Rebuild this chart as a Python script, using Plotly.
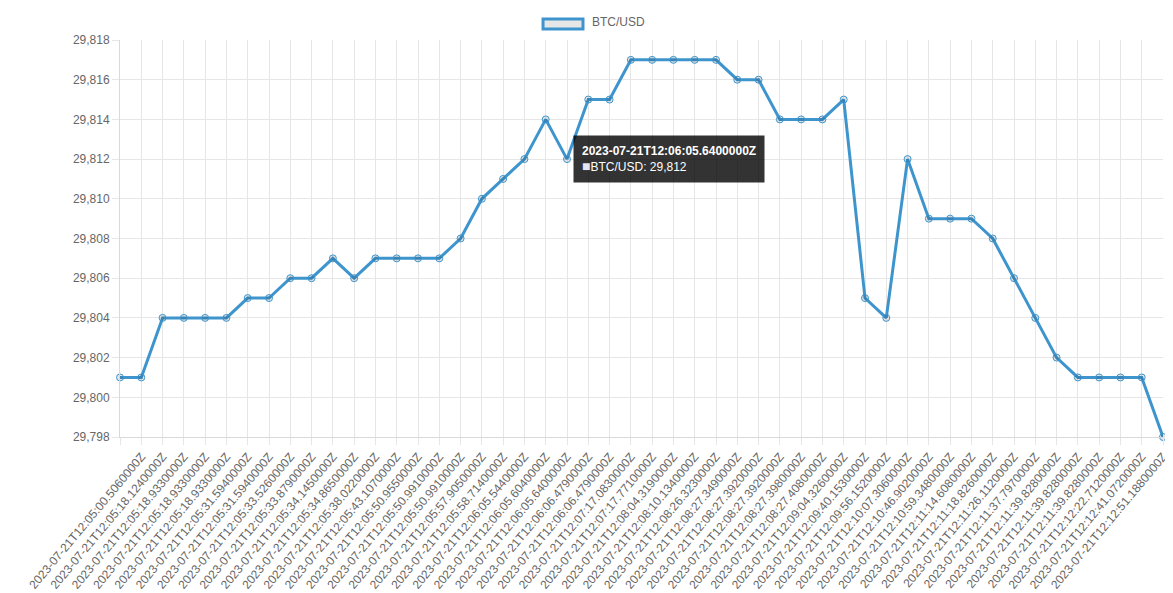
import plotly.graph_objects as go

labels = [
    "2023-07-21T12:05:00.5060000Z", "2023-07-21T12:05:00.5060000Z", "2023-07-21T12:05:18.1240000Z",
    "2023-07-21T12:05:18.9330000Z", "2023-07-21T12:05:18.9330000Z", "2023-07-21T12:05:18.9330000Z",
    "2023-07-21T12:05:31.5940000Z", "2023-07-21T12:05:31.5940000Z", "2023-07-21T12:05:33.5260000Z",
    "2023-07-21T12:05:33.8790000Z", "2023-07-21T12:05:34.1450000Z", "2023-07-21T12:05:34.8650000Z",
    "2023-07-21T12:05:38.0220000Z", "2023-07-21T12:05:43.1070000Z", "2023-07-21T12:05:50.9550000Z",
    "2023-07-21T12:05:50.9910000Z", "2023-07-21T12:05:50.9910000Z", "2023-07-21T12:05:57.9050000Z",
    "2023-07-21T12:05:58.7140000Z", "2023-07-21T12:06:05.5440000Z", "2023-07-21T12:06:05.6040000Z",
    "2023-07-21T12:06:05.6400000Z", "2023-07-21T12:06:06.4790000Z", "2023-07-21T12:06:06.4790000Z",
    "2023-07-21T12:07:17.0830000Z", "2023-07-21T12:07:17.7710000Z", "2023-07-21T12:08:04.3190000Z",
    "2023-07-21T12:08:10.1340000Z", "2023-07-21T12:08:26.3230000Z", "2023-07-21T12:08:27.3490000Z",
    "2023-07-21T12:08:27.3920000Z", "2023-07-21T12:08:27.3920000Z", "2023-07-21T12:08:27.3980000Z",
    "2023-07-21T12:08:27.4080000Z", "2023-07-21T12:09:04.3260000Z", "2023-07-21T12:09:40.1530000Z",
    "2023-07-21T12:09:56.1520000Z", "2023-07-21T12:10:07.3060000Z", "2023-07-21T12:10:46.9020000Z",
    "2023-07-21T12:10:59.3480000Z", "2023-07-21T12:11:14.6080000Z", "2023-07-21T12:11:18.8260000Z",
    "2023-07-21T12:11:26.1120000Z", "2023-07-21T12:11:37.7970000Z", "2023-07-21T12:11:39.8280000Z",
    "2023-07-21T12:11:39.8280000Z", "2023-07-21T12:11:39.8280000Z", "2023-07-21T12:12:22.7120000Z",
    "2023-07-21T12:12:41.0720000Z", "2023-07-21T12:12:51.1880000Z",
]

btc_usd = [
    29801, 29801, 29804, 29804, 29804, 29804, 29805, 29805, 29806, 29806,
    29807, 29806, 29807, 29807, 29807, 29807, 29808, 29810, 29811, 29812,
    29814, 29812, 29815, 29815, 29817, 29817, 29817, 29817, 29817, 29816,
    29816, 29814, 29814, 29814, 29815, 29805, 29804, 29812, 29809, 29809,
    29809, 29808, 29806, 29804, 29802, 29801, 29801, 29801, 29801, 29798,
]

series_name = "BTC/USD"
hover_index = 21

FONT = "Liberation Sans, Arial, Helvetica, sans-serif"
BLUE = "#3e95cd"
GRID = "#e6e6e6"
TXT = "#666666"

idx = list(range(len(btc_usd)))

fig = go.Figure()
fig.add_trace(go.Scatter(
    x=idx, y=btc_usd, mode="lines+markers", name=series_name,
    line=dict(color=BLUE, width=3),
    marker=dict(size=7, color="rgba(0,0,0,0.1)", line=dict(color=BLUE, width=1)),
    cliponaxis=False, showlegend=False,
))

# tooltip mimic
fig.add_annotation(
    x=idx[hover_index], y=btc_usd[hover_index], xref="x", yref="y",
    text=(f"<b>{labels[hover_index]}</b><br>"
          f"<span style='color:#e3e6ee;font-size:14px'>■</span>{series_name}: {btc_usd[hover_index]:,}"),
    showarrow=False, xanchor="left", yanchor="middle", xshift=6, yshift=0,
    align="left", bgcolor="rgba(0,0,0,0.8)", borderpad=8,
    font=dict(family=FONT, size=12, color="#ffffff"),
)

# legend mimic
fig.add_shape(type="rect", xref="paper", yref="paper",
              x0=0.4056, x1=0.4439, y0=1.0277, y1=1.0529,
              fillcolor="#e6e6e6", line=dict(color=BLUE, width=3))
fig.add_annotation(x=0.4506, y=1.0441, xref="paper", yref="paper", text=series_name,
                   showarrow=False, xanchor="left", yanchor="middle",
                   font=dict(family=FONT, size=12, color=TXT))

fig.update_layout(
    width=1165, height=585,
    margin=dict(l=112, r=10, t=32, b=156),
    paper_bgcolor="white", plot_bgcolor="white",
    font=dict(family=FONT, size=12, color=TXT),
    xaxis=dict(
        range=[0, len(btc_usd) - 1], tickmode="array", tickvals=idx, ticktext=labels,
        tickangle=-50, showgrid=True, gridcolor=GRID, zeroline=False,
        showline=True, linecolor="#d9d9d9", linewidth=1,
        ticks="outside", ticklen=7, tickcolor=GRID, automargin=False,
        tickfont=dict(family=FONT, size=12, color=TXT),
    ),
    yaxis=dict(
        range=[29798, 29818], dtick=2, tick0=29798, tickformat=",",
        showgrid=True, gridcolor=GRID, zeroline=False,
        showline=True, linecolor="#d9d9d9", linewidth=1,
        ticks="outside", ticklen=7, tickcolor=GRID, automargin=False,
        tickfont=dict(family=FONT, size=12, color=TXT),
    ),
)

fig.write_html("out.html")
